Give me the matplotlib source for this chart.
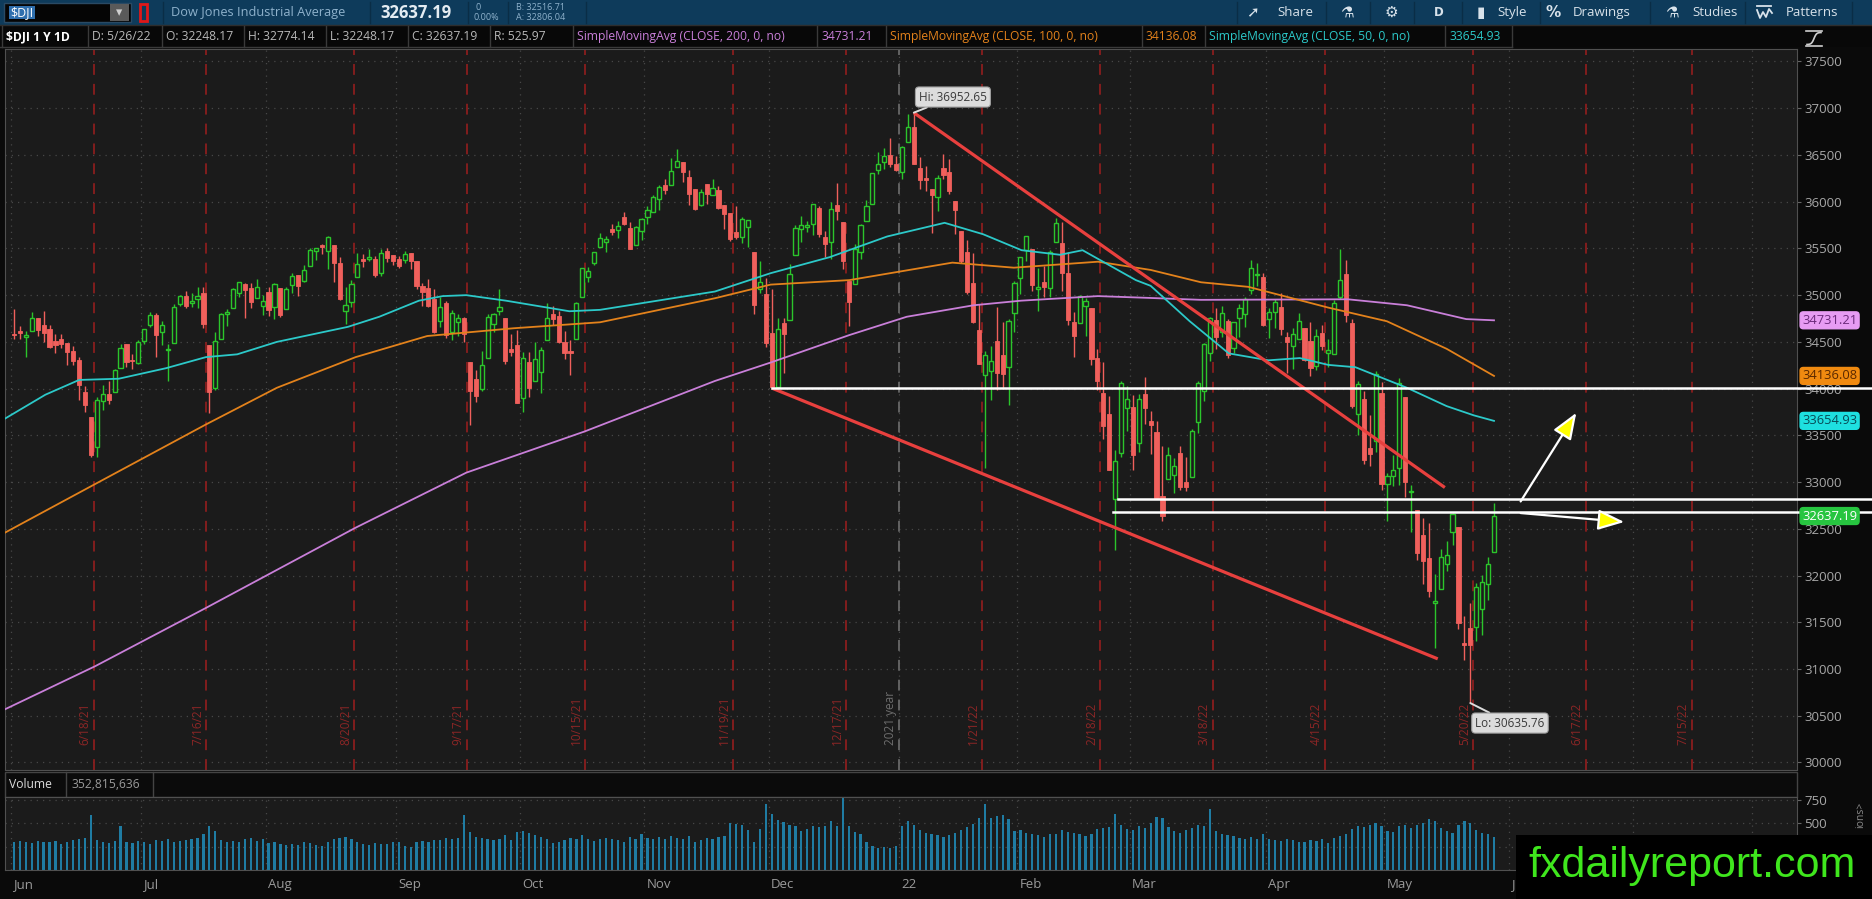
import numpy as np
import pandas as pd
import matplotlib
matplotlib.use("Agg")
import matplotlib.pyplot as plt
import matplotlib.transforms as mtransforms
from matplotlib.patches import Rectangle

plt.rcParams['font.family'] = ['Open Sans', 'DejaVu Sans']

W, H = 1872, 899

# ------------------------------------------------------------------
# Daily OHLC of $DJI, 6/1/21 .. 5/26/22
# ------------------------------------------------------------------
opens = [
    # Jun 21
    34584, 34614, 34550, 34618, 34752, 34683, 34636, 34510, 34526, 34493, 34405,
    34301, 33962, 33698, 33371, 33873, 33946, 33969, 34223, 34478, 34303, 34275,
    # Jul 21
    34508, 34686, 34785, 34602, 34412, 34492, 34910, 34994, 34920, 34956, 35026,
    34464, 34004, 34530, 34798, 34865, 35021, 35119, 35081, 34969, 34881,
    # Aug 21
    35031, 34877, 35073, 34853, 35106, 35212, 35151, 35309, 35475, 35535, 35469,
    35537, 35340, 34833, 34928, 35193, 35387, 35391, 35389, 35234, 35475, 35434,
    # Sep 21
    35388, 35371, 35446, 35366, 35094, 35074, 34957, 34720, 34912, 34609, 34716,
    34757, 34285, 34103, 33993, 34330, 34688, 34833, 34755, 34426, 34467,
    # Oct 21
    33900, 34283, 34083, 34178, 34519, 34802, 34779, 34497, 34398, 34530, 34982,
    35194, 35347, 35510, 35571, 35710, 35692, 35831, 35723, 35539, 35682,
    # Nov 21
    35833, 35890, 36026, 36182, 36180, 36373, 36428, 36260, 36133, 35969, 36187,
    36070, 36122, 35962, 35880, 35678, 35619, 35726, 35467, 35063, 35016,
    # Dec 21
    34598, 34013, 34697, 34738, 35432, 35704, 35725, 35763, 35935, 35624, 35573,
    35962, 35778, 35150, 35120, 35458, 35793, 35978, 36343, 36420, 36503, 36404,
    # Jan 22
    36322, 36637, 36800, 36360, 36249, 36140, 36050, 36357, 36313, 36003, 35685,
    35462, 35134, 34624, 34143, 34192, 34507, 34356, 34230, 34805,
    # Feb 22
    35180, 35479, 35495, 35071, 35138, 35077, 35571, 35559, 35233, 34710, 34706,
    34879, 34859, 34324, 33958, 33733, 32814, 33306, 33795,
    # Mar 22
    33802, 33420, 33943, 33656, 33536, 32849, 33030, 33077, 33308, 33001, 33056,
    33644, 33974, 34376, 34737, 34605, 34727, 34430, 34758, 34794, 35050, 35217, 35193,
    # Apr 22
    34741, 34818, 34877, 34555, 34452, 34536, 34645, 34508, 34238, 34594, 34376,
    34369, 34981, 35227, 34697, 33731, 33889, 33368, 33440, 33948,
    # May 22
    32981, 33064, 33146, 33909, 32896, 32704, 32432, 32193, 31706, 31857, 32127,
    32466, 32520, 31280, 31440, 31446, 31638, 31915, 32248,
]
highs = [
    34849, 34668, 34617, 34817, 34759, 34832, 34683, 34587, 34583, 34493, 34454,
    34342, 34027, 33698, 33911, 34042, 34080, 34206, 34482, 34478, 34371, 34515,
    34641, 34821, 34810, 34727, 34475, 34906, 35002, 35046, 35027, 35092, 35091,
    34464, 34604, 34807, 34853, 35080, 35145, 35127, 35127, 35171, 35000,
    35091, 35125, 35073, 35091, 35233, 35212, 35324, 35508, 35502, 35545, 35631,
    35537, 35406, 35084, 35165, 35452, 35442, 35495, 35421, 35495, 35508, 35434,
    35421, 35474, 35451, 35366, 35127, 35172, 35068, 34977, 34939, 34845, 34799,
    34766, 34285, 34195, 34403, 34795, 34812, 35062, 34755, 34585, 34623,
    34394, 34392, 34498, 34447, 34916, 34889, 34828, 34613, 34516, 34926, 35295,
    35302, 35467, 35669, 35637, 35765, 35791, 35893, 35778, 35739, 35822,
    35952, 36073, 36177, 36241, 36472, 36566, 36428, 36344, 36133, 36140, 36187,
    36240, 36165, 35969, 35880, 35952, 35838, 35806, 35467, 35367, 35188,
    35071, 34761, 34759, 35331, 35752, 35843, 35798, 35971, 35954, 35685, 36000,
    36203, 35778, 35150, 35549, 35762, 36023, 36304, 36527, 36571, 36679, 36484,
    36596, 36934, 36953, 36481, 36384, 36140, 36283, 36513, 36462, 36003, 35685,
    35586, 35452, 34909, 34398, 34456, 34869, 34717, 34741, 35151,
    35410, 35630, 35495, 35287, 35312, 35484, 35824, 35779, 35458, 34816, 35003,
    34966, 34859, 34428, 34282, 33919, 33340, 34078, 34023,
    33930, 33941, 34127, 33758, 33656, 33381, 33379, 33255, 33382, 33270, 33567,
    34084, 34490, 34763, 34859, 34881, 34748, 34708, 34904, 34980, 35372, 35346, 35238,
    34866, 34961, 35022, 34604, 34646, 34812, 34645, 34708, 34636, 34682, 34526,
    34943, 35492, 35380, 34747, 34077, 33972, 33714, 34186, 34073,
    33098, 33292, 34117, 33909, 32964, 32704, 32618, 32561, 32019, 32280, 32371,
    32668, 32520, 31563, 31710, 31920, 32003, 32198, 32774,
]
lows = [
    34534, 34536, 34340, 34618, 34563, 34499, 34437, 34380, 34437, 34251, 34256,
    33877, 33751, 33272, 33271, 33769, 33838, 33969, 34223, 34228, 34205, 34267,
    34474, 34661, 34335, 34465, 34080, 34492, 34880, 34860, 34870, 34859, 34644,
    33741, 33983, 34530, 34668, 34865, 34984, 34757, 34861, 34969, 34786,
    34773, 34745, 34770, 34853, 35028, 34991, 35139, 35309, 35377, 35441, 35276,
    35137, 34946, 34690, 34878, 35193, 35296, 35370, 35197, 35205, 35352, 35324,
    35288, 35341, 35282, 35068, 34885, 34876, 34598, 34664, 34546, 34518, 34563,
    34494, 33614, 33858, 33972, 34330, 34603, 34791, 34267, 34350, 33843,
    33746, 33913, 34083, 33948, 34519, 34683, 34486, 34315, 34142, 34530, 34982,
    35136, 35321, 35510, 35464, 35640, 35611, 35751, 35490, 35539, 35595,
    35765, 35890, 35906, 36087, 36180, 36373, 36214, 35970, 35908, 35953, 35976,
    36070, 35919, 35708, 35584, 35605, 35555, 35510, 34801, 35019, 34445,
    34006, 34011, 34170, 34738, 35432, 35569, 35674, 35647, 35620, 35413, 35385,
    35808, 35279, 34669, 35120, 35390, 35793, 35978, 36300, 36347, 36376, 36326,
    36246, 36637, 36408, 36140, 36113, 35663, 35898, 36240, 36082, 35650, 35343,
    35010, 34700, 34263, 33150, 33880, 33983, 34000, 33830, 34605,
    35012, 35362, 35045, 34835, 34981, 34983, 35571, 35047, 34677, 34334, 34706,
    34568, 34254, 33984, 33462, 33125, 32273, 33272, 33551,
    33128, 33322, 33626, 33296, 32817, 32579, 33030, 32885, 32920, 32900, 33056,
    33523, 33864, 34296, 34422, 34550, 34331, 34378, 34557, 34655, 35009, 35097, 34672,
    34544, 34653, 34578, 34165, 34215, 34536, 34297, 34133, 34197, 34418, 34231,
    34369, 34956, 34714, 33788, 33504, 33197, 33174, 33318, 32914,
    32584, 32961, 32972, 32836, 32465, 32168, 31911, 31776, 31228, 31857, 32051,
    32331, 31432, 31092, 30636, 31300, 31362, 31742, 32248,
]
closes = [
    34575, 34600, 34577, 34756, 34630, 34600, 34447, 34466, 34480, 34394, 34299,
    34034, 33823, 33290, 33877, 33946, 33874, 34197, 34434, 34283, 34292, 34503,
    34634, 34786, 34577, 34682, 34422, 34870, 34996, 34889, 34933, 34987, 34688,
    33962, 34512, 34798, 34823, 35062, 35144, 35059, 34931, 35085, 34935,
    34838, 35116, 34793, 35064, 35209, 35102, 35265, 35485, 35500, 35515, 35625,
    35343, 34961, 34894, 35120, 35336, 35366, 35406, 35213, 35456, 35400, 35361,
    35313, 35444, 35369, 35100, 35031, 34879, 34608, 34870, 34578, 34814, 34751,
    34585, 33970, 33920, 34258, 34765, 34798, 34869, 34300, 34391, 33844,
    34326, 34003, 34315, 34417, 34755, 34746, 34496, 34378, 34378, 34913, 35295,
    35259, 35457, 35609, 35603, 35677, 35741, 35757, 35491, 35730, 35820,
    35914, 36053, 36158, 36124, 36328, 36432, 36320, 36080, 35921, 36100, 36087,
    36142, 35931, 35871, 35602, 35619, 35814, 35804, 34899, 35136, 34484,
    34022, 34640, 34580, 35227, 35719, 35754, 35755, 35971, 35651, 35544, 35927,
    35898, 35365, 34932, 35493, 35754, 35951, 36302, 36398, 36489, 36398, 36338,
    36585, 36800, 36407, 36236, 36232, 36069, 36252, 36290, 36114, 35912, 35368,
    35029, 34715, 34265, 34365, 34298, 34168, 34161, 34725, 35132,
    35405, 35629, 35111, 35090, 35091, 35463, 35768, 35242, 34738, 34566, 34989,
    34934, 34312, 34079, 33597, 33132, 33224, 34059, 33893,
    33295, 33891, 33795, 33615, 32817, 32633, 33286, 33174, 32944, 32945, 33544,
    34063, 34481, 34755, 34553, 34807, 34359, 34708, 34861, 34956, 35294, 35229, 34678,
    34818, 34922, 34641, 34497, 34584, 34721, 34308, 34220, 34565, 34451, 34412,
    34911, 35161, 34793, 33811, 34049, 33240, 33302, 34161, 32977,
    33062, 33129, 34061, 32998, 32899, 32246, 32161, 31834, 31730, 32197, 32223,
    32655, 31490, 31253, 31262, 31880, 31929, 32120, 32637,
]
# volume, millions
volumes = [
    300, 310, 295, 290, 305, 300, 295, 310, 280, 300, 320, 330, 340, 590, 320, 300,
    290, 305, 470, 300, 290, 310,
    300, 280, 320, 310, 330, 300, 310, 320, 330, 340, 380, 470, 420, 320, 300, 310,
    300, 330, 340, 310, 330,
    290, 300, 280, 270, 280, 270, 300, 290, 270, 260, 300, 330, 340, 350, 330, 300,
    280, 270, 290, 280, 280, 300,
    300, 260, 250, 300, 310, 300, 320, 320, 340, 330, 340, 590, 410, 350, 340, 330,
    320, 330, 370, 320, 410,
    420, 400, 370, 350, 330, 290, 300, 320, 340, 330, 370, 330, 310, 330, 340, 330,
    320, 300, 350, 330, 380,
    340, 330, 350, 330, 360, 340, 330, 360, 300, 320, 340, 330, 350, 360, 500, 490,
    480, 430, 300, 440, 700,
    600, 530, 510, 480, 470, 420, 440, 470, 460, 470, 520, 470, 770, 470, 410, 380,
    300, 260, 240, 250, 230, 260,
    470, 520, 480, 430, 400, 390, 370, 350, 370, 400, 430, 460, 490, 560, 700, 560,
    580, 590, 540, 420,
    430, 400, 390, 370, 350, 380, 380, 430, 410, 400, 380, 360, 380, 440, 450, 460,
    600, 480, 440,
    430, 470, 450, 500, 570, 560, 460, 420, 400, 430, 450, 480, 470, 650, 420, 380,
    370, 360, 340, 330, 350, 330, 380,
    330, 320, 310, 330, 320, 300, 300, 320, 310, 330, 290, 340, 360, 380, 440, 470,
    460, 480, 500, 470,
    420, 410, 470, 480, 450, 480, 500, 550, 520, 450, 420, 400, 480, 520, 500, 430,
    400, 390, 353,
]

# moving averages (bar index, value)
sma200_x = [-1.5, 13.7, 32.4, 57.7, 76.4, 96.4, 118.4, 127.8, 141.1, 150.8, 162.1,
            170.1, 183.1, 192, 200.5, 225.3, 235.3, 245.3, 250]
sma200_y = [30570, 31030, 31653, 32512, 33101, 33542, 34082, 34279, 34573, 34769, 34892,
            34941, 34990, 34970, 34950, 34956, 34892, 34744, 34731]
sma100_x = [-1.5, 13.7, 32.4, 44.4, 57.7, 69.8, 84.4, 99, 118.4, 127.8, 141.1, 158.5,
            168.9, 183.1, 192, 200.5, 208.5, 222, 231.9, 242, 250]
sma100_y = [32460, 32979, 33616, 34009, 34337, 34563, 34646, 34710, 34967, 35113, 35161,
            35348, 35294, 35358, 35270, 35138, 35089, 34867, 34721, 34426, 34136]
sma50_x = [-1.5, 5.3, 11, 17.7, 25.7, 32.4, 37.7, 44.4, 56.4, 61.7, 68.4, 72.4, 76.4,
           83.1, 93.8, 99, 118.4, 127.8, 137.8, 147.5, 157.2, 163.7, 170.2, 176.7,
           180.5, 189.5, 192, 198.6, 205.2, 211.9, 217.2, 222, 226.6, 235.3, 242,
           246.6, 250]
sma50_y = [33680, 33935, 34093, 34106, 34219, 34337, 34367, 34500, 34661, 34769, 34941,
           34990, 35000, 34941, 34828, 34843, 35039, 35235, 35407, 35628, 35774, 35652,
           35481, 35432, 35481, 35161, 35100, 34721, 34377, 34303, 34327, 34254, 34229,
           34009, 33813, 33714, 33655]

holidays = ['2021-07-05', '2021-09-06', '2021-11-25', '2021-12-24', '2022-01-17',
            '2022-02-21', '2022-04-15', '2022-05-30', '2022-06-20', '2022-07-04']
expiries = ['6/18/21', '7/16/21', '8/20/21', '9/17/21', '10/15/21', '11/19/21',
            '12/17/21', '1/21/22', '2/18/22', '3/18/22', '4/15/22', '5/20/22',
            '6/17/22', '7/15/22']
# the June 2022 label is cut by the watermark, only its "J" shows
month_labels = ['Jun', 'Jul', 'Aug', 'Sep', 'Oct', 'Nov', 'Dec', '22', 'Feb', 'Mar',
                'Apr', 'May', 'J']
price_ticks = list(range(30000, 38000, 500))

# drawings on the chart
hi_val, lo_val = 36952.65, 30635.76
support_top = 34006
support_mid = 32820
support_low = 32684
upper_trend = ([152, 241.7], [36952, 32942])
lower_trend = ([128, 240.5], [34006, 31109])

GREEN = '#2bc52b'
RED = '#f0605c'
CYAN = '#2cc9c9'
ORANGE = '#e3821b'
VIOLET = '#c97fd9'
PANEL = '#1b1b1b'

cal = pd.bdate_range('2021-06-01', '2022-08-31', freq='C', holidays=holidays)
months = cal.to_period('M')
month_first = np.flatnonzero(np.r_[True, months[1:] != months[:-1]])
exp_pos = [cal.searchsorted(pd.to_datetime(d, format='%m/%d/%y'), side='right') - 0.5
           for d in expiries]

# pixel geometry of the chart: bar i sits at x = 14 + 5.92 i
def bar_of(px):
    return (px - 14) / 5.92

def price_of(py):
    return 30000 + (762.5 - py) / 0.093467

fig = plt.figure(figsize=(W / 100, H / 100), dpi=100, facecolor='#0a0a0a')

def px_axes(x0, y0, x1, y1):
    return fig.add_axes([x0 / W, 1 - y1 / H, (x1 - x0) / W, (y1 - y0) / H])

# ---------------- UI chrome (pixel coords) ----------------
ui = px_axes(0, 0, W, H)
ui.set_xlim(0, W)
ui.set_ylim(H, 0)
ui.axis('off')
ui.add_patch(Rectangle((0, 0), W, 25, fc='#0e3b5b', ec='none'))
ui.add_patch(Rectangle((0, 25), W, 22, fc='#080808', ec='none'))
ui.plot([0, W], [25, 25], color='#2d2d2d', lw=1)
ui.plot([0, 1512], [47, 47], color='#3a3a3a', lw=1)

# symbol box
ui.add_patch(Rectangle((4, 3), 127, 19, fc='#050505', ec='#2a4a64', lw=1))
ui.add_patch(Rectangle((9, 6), 26, 13, fc='#2f6fae', ec='none'))
ui.text(10, 12.5, '$DJI', color='white', fontsize=9, va='center', ha='left')
ui.add_patch(Rectangle((110, 4), 19, 17, fc='#5a5a5a', ec='none'))
ui.text(119.5, 12.5, '\u25BE', color='#cfcfcf', fontsize=9, ha='center', va='center')
ui.add_patch(Rectangle((140, 4), 7, 17, fc='none', ec='#e01818', lw=2))
ui.text(171, 12.5, 'Dow Jones Industrial Average', color='#8fb2cc', fontsize=9.2,
        va='center', ha='left')
ui.text(380, 12.5, '32637.19', color='#e4ecf2', fontsize=12, fontweight='bold',
        va='center', ha='left')
ui.text(476, 7.5, '0', color='#8fb2cc', fontsize=6.5, va='center', ha='left')
ui.text(474, 17.5, '0.00%', color='#8fb2cc', fontsize=6.5, va='center', ha='left')
ui.text(516, 7.5, 'B: 32516.71', color='#8fb2cc', fontsize=6.5, va='center', ha='left')
ui.text(516, 17.5, 'A: 32806.04', color='#8fb2cc', fontsize=6.5, va='center', ha='left')
for sx in [163, 370, 468, 508, 586]:
    ui.plot([sx, sx], [2, 23], color='#0a2d46', lw=1)

tools = [(1253, '\u279A', 1277, 'Share'), (1347, '\u2697', None, None),
         (1391, '\u2699', None, None), (1439, 'D', None, None),
         (1481, '\u25AE', 1497, 'Style'), (1553, '%', 1573, 'Drawings'),
         (1672, '\u2697', 1692, 'Studies'), (None, None, 1786, 'Patterns')]
for ix, icon, tx, label in tools:
    if icon:
        ui.text(ix, 12.5, icon, color='#d8e2ea', fontsize=11 if icon != 'D' else 8.5,
                fontweight='bold', ha='center', va='center', family=['DejaVu Sans'])
    if label:
        ui.text(tx, 12.5, label, color='#d8e2ea', fontsize=9.5, ha='left', va='center')
# patterns icon: bar over a zigzag
ui.plot([1757, 1771], [6, 6], color='#d8e2ea', lw=1.3)
ui.plot([1757, 1760, 1763, 1766, 1769, 1772], [10, 18, 12, 17, 9, 13],
        color='#d8e2ea', lw=1.3)
for sx in [1237, 1326, 1370, 1414, 1462, 1540, 1650, 1745, 1852]:
    ui.plot([sx, sx], [2, 23], color='#0a2d46', lw=1)

# study header row
header = [(6, '$DJI 1 Y 1D', 'white', 'bold'),
          (92, 'D: 5/26/22', '#b8b8b8', 'normal'),
          (166, 'O: 32248.17', '#b8b8b8', 'normal'),
          (248, 'H: 32774.14', '#b8b8b8', 'normal'),
          (330, 'L: 32248.17', '#b8b8b8', 'normal'),
          (412, 'C: 32637.19', '#b8b8b8', 'normal'),
          (494, 'R: 525.97', '#b8b8b8', 'normal'),
          (577, 'SimpleMovingAvg (CLOSE, 200, 0, no)', VIOLET, 'normal'),
          (821, '34731.21', VIOLET, 'normal'),
          (890, 'SimpleMovingAvg (CLOSE, 100, 0, no)', ORANGE, 'normal'),
          (1146, '34136.08', ORANGE, 'normal'),
          (1209, 'SimpleMovingAvg (CLOSE, 50, 0, no)', CYAN, 'normal'),
          (1449, '33654.93', CYAN, 'normal')]
for hx, txt, col, wt in header:
    ui.text(hx, 36.5, txt, color=col, fontsize=8.7, fontweight=wt, ha='left', va='center')
    ui.plot([hx - 4, hx - 4], [26, 47], color='#3a3a3a', lw=1)
ui.plot([1512, 1512], [26, 47], color='#3a3a3a', lw=1)

# little style icon top right
ui.plot([1806, 1822], [30.5, 30.5], color='#cfcfcf', lw=1.2)
ui.plot([1806, 1822], [46, 46], color='#cfcfcf', lw=1.2)
sx_ = np.linspace(1807, 1821, 20)
ui.plot(sx_, 38.5 - 6 * np.tanh((sx_ - 1814) / 2.5), color='#cfcfcf', lw=1.2)

# volume header
ui.add_patch(Rectangle((5, 772), 1792, 25, fc='#0b0b0b', ec='#444444', lw=1))
ui.text(9, 785, 'Volume', color='#dcdcdc', fontsize=8.7, ha='left', va='center')
ui.plot([66, 66], [772, 797], color='#444444', lw=1)
ui.text(71, 785, '352,815,636', color='#9a9a9a', fontsize=8.7, ha='left', va='center')
ui.plot([153, 153], [772, 797], color='#444444', lw=1)
ui.text(1861, 815, 'ions>', color='#8a8a8a', fontsize=7.5, rotation=90,
        ha='center', va='center')

# ---------------- price panel ----------------
ax = px_axes(5, 49, 1797, 770)
ax.set_facecolor(PANEL)
XL = (bar_of(5), bar_of(1797))
YL = (price_of(770), price_of(49))
ax.set_xlim(*XL)
ax.set_ylim(*YL)

ax.hlines(price_ticks, *XL, colors='#474747', linestyles=(0, (1, 4)), lw=0.9, zorder=1)
ax.vlines(month_first - 0.5, *YL, colors='#474747', linestyles=(0, (1, 4)), lw=0.9, zorder=1)
ax.vlines(exp_pos, *YL, colors='#8a1e1e', linestyles=(0, (6, 5)), lw=1.3, zorder=1)
ax.axvline(149.5, color='#686868', linestyle=(0, (6, 5)), lw=1.3, zorder=1)

bt = mtransforms.blended_transform_factory(ax.transData, ax.transAxes)
for pos, lab in zip(exp_pos, expiries):
    ax.text(pos - 0.4, 0.035, lab, rotation=90, ha='right', va='bottom', color='#8c2626',
            fontsize=8.5, transform=bt, zorder=1)
ax.text(149.1, 0.035, '2021 year', rotation=90, ha='right', va='bottom', color='#6e6e6e',
        fontsize=8.5, transform=bt, zorder=1)

o = np.array(opens, float)
h = np.array(highs, float)
l = np.array(lows, float)
c = np.array(closes, float)
xi = np.arange(len(c))
up = c >= o
b_lo = np.minimum(o, c)
b_hi = np.maximum(o, c)
b_ht = np.maximum(b_hi - b_lo, 6)

ax.vlines(xi[up], l[up], b_lo[up], color=GREEN, lw=1, zorder=3)
ax.vlines(xi[up], b_hi[up], h[up], color=GREEN, lw=1, zorder=3)
ax.bar(xi[up], b_ht[up], bottom=b_lo[up], width=0.7, facecolor=PANEL, edgecolor=GREEN,
       lw=1, zorder=3)
ax.vlines(xi[~up], l[~up], h[~up], color=RED, lw=1, zorder=3)
ax.bar(xi[~up], b_ht[~up], bottom=b_lo[~up], width=0.7, facecolor=RED, edgecolor=RED,
       lw=0.6, zorder=3)

ax.plot(sma200_x, sma200_y, color=VIOLET, lw=1.3, zorder=4)
ax.plot(sma100_x, sma100_y, color=ORANGE, lw=1.3, zorder=4)
ax.plot(sma50_x, sma50_y, color=CYAN, lw=1.3, zorder=4)

ax.plot(*upper_trend, color='#e8403e', lw=2.3, zorder=5, solid_capstyle='butt')
ax.plot(*lower_trend, color='#e8403e', lw=2.3, zorder=5, solid_capstyle='butt')

x_end = bar_of(W)
ax.plot([128, x_end], [support_top, support_top], color='white', lw=1.8, clip_on=False, zorder=6)
ax.plot([186.5, x_end], [support_mid, support_mid], color='white', lw=1.8, clip_on=False, zorder=6)
ax.plot([185.7, x_end], [support_low, support_low], color='white', lw=1.8, clip_on=False, zorder=6)

ax.annotate('', xy=(263.9, 33741), xytext=(254.5, 32793),
            arrowprops=dict(arrowstyle='-|>,head_length=0.9,head_width=0.35', fc='#ffff00',
                            ec='white', lw=1.6, mutation_scale=18, shrinkA=0, shrinkB=0),
            zorder=6)
ax.annotate('', xy=(272, 32573), xytext=(254.5, 32669),
            arrowprops=dict(arrowstyle='-|>,head_length=0.9,head_width=0.35', fc='#ffff00',
                            ec='white', lw=1.6, mutation_scale=18, shrinkA=0, shrinkB=0),
            zorder=6)

box = dict(boxstyle='round,pad=0.3,rounding_size=0.3', fc='#dcdcdc', ec='#a0a0a0', lw=0.8)
ax.annotate('Hi: %.2f' % hi_val, xy=(152, hi_val), xytext=(158.6, 37120), ha='center',
            va='center', fontsize=8.5, color='#3a3a3a', bbox=box, zorder=7,
            arrowprops=dict(arrowstyle='-', color='#dcdcdc', lw=1.4, shrinkA=0, shrinkB=0))
ax.annotate('Lo: %.2f' % lo_val, xy=(246, lo_val), xytext=(252.7, 30422), ha='center',
            va='center', fontsize=8.5, color='#3a3a3a', bbox=box, zorder=7,
            arrowprops=dict(arrowstyle='-', color='#dcdcdc', lw=1.4, shrinkA=0, shrinkB=0))

ax.yaxis.tick_right()
ax.set_yticks(price_ticks)
ax.set_yticklabels([str(t) for t in price_ticks])
ax.tick_params(axis='y', labelcolor='#a8a8a8', labelsize=9.5, length=3, pad=2, color='#666666')
ax.tick_params(axis='x', bottom=False, labelbottom=False)
for side in ['left', 'right', 'top', 'bottom']:
    ax.spines[side].set_color('#505050')

bt_tag = mtransforms.blended_transform_factory(ax.transAxes, ax.transData)
tags = [(sma200_y[-1], '34731.21', '#e79cf3', '#6b2a7b'),
        (sma100_y[-1], '34136.08', '#f08a10', '#5a2800'),
        (sma50_y[-1], '33654.93', '#1ee0e0', '#084a55'),
        (closes[-1], '32637.19', '#27c540', 'white')]
for val, txt, bg, fg in tags:
    ax.text(1.0028, val, txt, transform=bt_tag, ha='left', va='center', fontsize=9.3,
            color=fg, clip_on=False, zorder=7,
            bbox=dict(boxstyle='round,pad=0.15,rounding_size=0.25', fc=bg, ec=bg))

# ---------------- volume panel ----------------
axv = px_axes(5, 797, 1797, 870)
axv.set_facecolor(PANEL)
axv.set_xlim(*XL)
axv.set_ylim(0, 780)
axv.hlines([250, 500, 750], *XL, colors='#474747', linestyles=(0, (1, 4)), lw=0.9, zorder=1)
axv.vlines(month_first - 0.5, 0, 780, colors='#474747', linestyles=(0, (1, 4)), lw=0.9, zorder=1)
axv.bar(xi, volumes, width=0.38, color='#1f7ca3', zorder=2)
axv.yaxis.tick_right()
axv.set_yticks([500, 750])
axv.set_yticklabels(['500', '750'])
axv.tick_params(axis='y', labelcolor='#a8a8a8', labelsize=9.5, length=3, pad=2, color='#666666')
axv.tick_params(axis='x', bottom=False, labelbottom=False)
for side in ['left', 'right', 'top', 'bottom']:
    axv.spines[side].set_color('#505050')

bv = mtransforms.blended_transform_factory(axv.transData, axv.transAxes)
for m, lab in zip(month_first, month_labels):
    axv.text(m - 0.5 + 0.35, -0.2, lab, transform=bv, ha='left', va='center',
             color='#9a9a9a', fontsize=9.5, clip_on=False)

# ---------------- watermark ----------------
wm = px_axes(1516, 835, W, H)
wm.set_xlim(0, W - 1516)
wm.set_ylim(H - 835, 0)
wm.set_facecolor('black')
for s in wm.spines.values():
    s.set_visible(False)
wm.set_xticks([])
wm.set_yticks([])
wm.text(12, 42, 'fxdailyreport.com', color='#3fe61d', fontsize=31, ha='left',
        va='baseline', family=['Liberation Sans', 'DejaVu Sans'])

fig.savefig('out.png', dpi=100, facecolor=fig.get_facecolor())
